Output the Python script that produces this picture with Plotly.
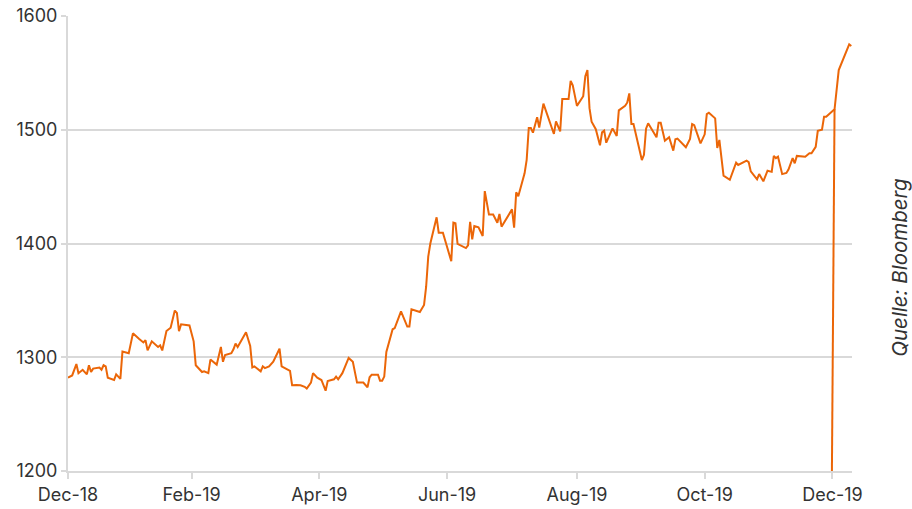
import plotly.graph_objects as go

# Gold price (USD/oz)
dates = [
    "2018-12-31", "2019-01-02", "2019-01-04", "2019-01-05", "2019-01-07", "2019-01-09",
    "2019-01-10", "2019-01-11", "2019-01-12", "2019-01-15", "2019-01-16", "2019-01-17",
    "2019-01-18", "2019-01-19", "2019-01-22", "2019-01-23", "2019-01-25", "2019-01-26",
    "2019-01-29", "2019-01-31", "2019-02-03", "2019-02-05", "2019-02-06", "2019-02-07",
    "2019-02-09", "2019-02-12", "2019-02-13", "2019-02-14", "2019-02-16", "2019-02-18",
    "2019-02-20", "2019-02-21", "2019-02-22", "2019-02-23", "2019-02-27", "2019-03-01",
    "2019-03-02", "2019-03-05", "2019-03-06", "2019-03-08", "2019-03-09", "2019-03-12",
    "2019-03-14", "2019-03-15", "2019-03-16", "2019-03-19", "2019-03-20", "2019-03-21",
    "2019-03-22", "2019-03-26", "2019-03-28", "2019-03-29", "2019-03-30", "2019-04-02",
    "2019-04-03", "2019-04-04", "2019-04-06", "2019-04-08", "2019-04-11", "2019-04-12",
    "2019-04-16", "2019-04-17", "2019-04-19", "2019-04-21", "2019-04-23", "2019-04-24",
    "2019-04-26", "2019-04-27", "2019-04-29", "2019-05-01", "2019-05-03", "2019-05-04",
    "2019-05-07", "2019-05-08", "2019-05-09", "2019-05-11", "2019-05-14", "2019-05-16",
    "2019-05-18", "2019-05-21", "2019-05-23", "2019-05-24", "2019-05-25", "2019-05-28",
    "2019-05-29", "2019-05-30", "2019-05-31", "2019-06-01", "2019-06-04", "2019-06-05",
    "2019-06-08", "2019-06-11", "2019-06-12", "2019-06-13", "2019-06-17", "2019-06-19",
    "2019-06-20", "2019-06-21", "2019-06-22", "2019-06-25", "2019-06-26", "2019-06-28",
    "2019-07-02", "2019-07-03", "2019-07-04", "2019-07-05", "2019-07-09", "2019-07-10",
    "2019-07-11", "2019-07-12", "2019-07-13", "2019-07-15", "2019-07-17", "2019-07-18",
    "2019-07-20", "2019-07-22", "2019-07-24", "2019-07-25", "2019-07-26", "2019-07-31",
    "2019-08-01", "2019-08-02", "2019-08-03", "2019-08-06", "2019-08-07", "2019-08-08",
    "2019-08-09", "2019-08-10", "2019-08-12", "2019-08-13", "2019-08-15", "2019-08-20",
    "2019-08-21", "2019-08-23", "2019-08-24", "2019-08-27", "2019-08-28", "2019-08-29",
    "2019-08-31", "2019-09-03", "2019-09-04", "2019-09-05", "2019-09-06", "2019-09-07",
    "2019-09-09", "2019-09-11", "2019-09-12", "2019-09-13", "2019-09-14", "2019-09-17",
    "2019-09-19", "2019-09-20", "2019-09-23", "2019-09-24", "2019-09-25", "2019-09-26",
    "2019-09-27", "2019-10-01", "2019-10-02", "2019-10-03", "2019-10-04", "2019-10-08",
    "2019-10-09", "2019-10-10", "2019-10-12", "2019-10-14", "2019-10-16", "2019-10-17",
    "2019-10-18", "2019-10-22", "2019-10-24", "2019-10-25", "2019-10-26", "2019-10-29",
    "2019-10-31", "2019-11-01", "2019-11-02", "2019-11-05", "2019-11-06", "2019-11-07",
    "2019-11-09", "2019-11-12", "2019-11-15", "2019-11-16", "2019-11-20", "2019-11-21",
    "2019-11-22", "2019-11-25", "2019-11-26", "2019-11-28", "2019-11-30", "2019-12-02",
    "2019-12-03", "2019-12-04", "2019-12-05", "2019-12-07", "2019-12-09", "2019-12-10",
    "2019-12-12", "2019-12-13", "2019-12-14", "2019-12-18", "2019-12-20", "2019-12-21",
    "2019-12-23", "2019-12-24", "2019-12-26", "2019-12-27", "2019-12-28", "2020-01-01",
    "2020-01-03", "2020-01-06", "2020-01-08", "2020-01-09",
]
prices = [
    1282, 1284, 1294, 1286, 1289, 1285,
    1293, 1287, 1290, 1291, 1289, 1293,
    1292, 1282, 1280, 1285, 1281, 1305,
    1303.5, 1321, 1316, 1313, 1315, 1306,
    1314, 1309, 1310.5, 1306, 1323, 1326,
    1341, 1339, 1323, 1329, 1328, 1314,
    1293, 1287, 1287.6, 1286, 1298, 1293.5,
    1309, 1296, 1302, 1303.5, 1307, 1312,
    1309, 1322, 1310, 1291, 1292, 1287.6,
    1292, 1290.5, 1292, 1296, 1307.5, 1292,
    1288, 1275.4, 1275.5, 1275.4, 1274, 1272.5,
    1277.7, 1286, 1282, 1280, 1270.6, 1279,
    1280.6, 1283, 1280.6, 1286, 1299.4, 1296,
    1277.7, 1277.7, 1273.6, 1282.4, 1284.7, 1284.7,
    1279.4, 1279.4, 1283, 1304.6, 1324.6, 1325.7,
    1340.4, 1327, 1327, 1342.2, 1339.8, 1346,
    1362, 1388.4, 1400, 1423, 1409.5, 1409.5,
    1384.4, 1418.3, 1417.7, 1399.6, 1396, 1398.4,
    1419, 1403.7, 1415.4, 1414.2, 1406.6, 1446,
    1425.4, 1425.4, 1418.3, 1426, 1414.8, 1430,
    1414, 1445, 1441.5, 1461.7, 1473.4, 1501.5,
    1501.5, 1497.4, 1511, 1502, 1523, 1496.3,
    1507.4, 1498.6, 1527, 1527, 1543, 1539,
    1521, 1529.5, 1547, 1552.5, 1519, 1507,
    1500.5, 1486.3, 1497.7, 1499.2, 1488.6, 1501.2,
    1494.5, 1517, 1521, 1523.8, 1532, 1505,
    1505, 1473.4, 1478, 1501, 1505.7, 1493.4,
    1506.2, 1506.2, 1490.4, 1493.4, 1481.6, 1491.6,
    1492.2, 1484.6, 1492, 1505, 1504, 1488,
    1496, 1513.8, 1515, 1510, 1484, 1491,
    1459.6, 1456, 1471, 1469, 1472.8, 1471.6,
    1463.4, 1456.4, 1461, 1454.7, 1464, 1463,
    1477, 1475, 1476.3, 1461, 1462, 1465,
    1475, 1470.5, 1477, 1476.3, 1479.3, 1479.3,
    1485, 1499, 1500, 1511.5, 1511.5, 1518,
    1552.5, 1566, 1575, 1573.6,
]

# Faulty data point (drops out of the chart at the year end)
glitch_dates = ["2020-01-01", "2019-12-26"]
glitch_values = [1518, 0]

tick_dates = ["2018-12-31", "2019-02-28", "2019-04-30", "2019-06-30",
              "2019-08-31", "2019-10-31", "2019-12-31"]
tick_labels = ["Dec-18", "Feb-19", "Apr-19", "Jun-19", "Aug-19", "Oct-19", "Dec-19"]
y_ticks = [1200, 1300, 1400, 1500, 1600]

line_color = "#EB6608"
grid_color = "#D9D9D9"
font_family = "Inter, Lato, sans-serif"
text_color = "#333333"
font_size = 18

fig = go.Figure()
fig.add_trace(go.Scatter(
    x=glitch_dates, y=glitch_values, mode="lines",
    line=dict(color=line_color, width=2), hoverinfo="skip", showlegend=False,
))
fig.add_trace(go.Scatter(
    x=dates, y=prices, mode="lines",
    line=dict(color=line_color, width=2), showlegend=False,
))

fig.update_layout(
    width=912, height=509,
    margin=dict(l=68, r=60, t=16, b=38, autoexpand=False),
    paper_bgcolor="white", plot_bgcolor="white",
    font=dict(family=font_family, size=font_size, color=text_color),
    xaxis=dict(
        type="date", automargin=False,
        range=["2018-12-31", "2020-01-09 08:00"],
        tickvals=tick_dates, ticktext=tick_labels,
        showgrid=False, zeroline=False,
        showline=True, linecolor=grid_color, linewidth=2,
        ticks="outside", ticklen=6, tickwidth=2, tickcolor=grid_color,
        tickfont=dict(size=font_size, color=text_color),
    ),
    yaxis=dict(
        range=[1200, 1600], tickvals=y_ticks, automargin=False,
        showgrid=True, gridcolor=grid_color, gridwidth=2,
        zeroline=False,
        showline=True, linecolor=grid_color, linewidth=2,
        ticks="outside", ticklen=5, tickwidth=2, tickcolor=grid_color,
        tickfont=dict(size=font_size, color=text_color),
    ),
    annotations=[dict(
        text="<i>Quelle: Bloomberg</i>", xref="paper", yref="paper",
        x=1.0595, y=0.446, xanchor="center", yanchor="middle",
        textangle=-90, showarrow=False,
        font=dict(size=20.5, color=text_color, family=font_family),
    )],
)

# remove the default 8px page margin so the figure fills the window exactly
fig.write_html(
    "out.html",
    config={"displayModeBar": False},
    post_script="document.body.style.margin='0px';document.body.style.overflow='hidden';",
)
